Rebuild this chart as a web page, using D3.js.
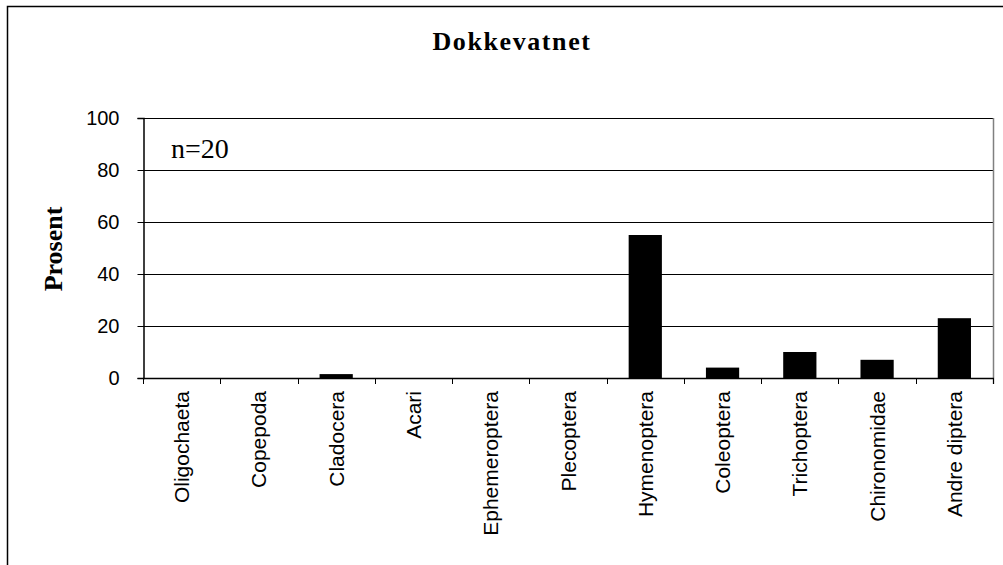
<!DOCTYPE html>
<html>
<head>
<meta charset="utf-8">
<script src="https://cdn.jsdelivr.net/npm/d3@7"></script>
<style>
  html, body { margin: 0; padding: 0; background: #fff; }
  svg { display: block; }
</style>
</head>
<body>
<svg id="chart" width="1003" height="565"></svg>
<script>
const categories = ["Oligochaeta", "Copepoda", "Cladocera", "Acari", "Ephemeroptera", "Plecoptera",
  "Hymenoptera", "Coleoptera", "Trichoptera", "Chironomidae", "Andre diptera"];
const values = [0, 0, 1.5, 0, 0, 0, 55, 4, 10, 7, 23];
const yTicks = [0, 20, 40, 60, 80, 100];
const title = "Dokkevatnet";
const yLabel = "Prosent";
const note = "n=20";

const svg = d3.select("#chart");
const W = 1003, H = 565;
const m = { left: 143, right: 993, top: 118, bottom: 378 };

// outer border
svg.append("rect").attr("x", 7.5).attr("y", 6.5).attr("width", W).attr("height", H)
  .attr("fill", "none").attr("stroke", "#000").attr("stroke-width", 1.5);

const x = d3.scaleBand().domain(categories).range([m.left, m.right]).paddingInner(0).paddingOuter(0);
const y = d3.scaleLinear().domain([0, 100]).range([m.bottom, m.top]);

// gridlines
svg.append("g").selectAll("line").data(yTicks.filter(d => d > 0)).join("line")
  .attr("x1", m.left).attr("x2", m.right)
  .attr("y1", d => Math.round(y(d)) + 0.5).attr("y2", d => Math.round(y(d)) + 0.5)
  .attr("stroke", "#000").attr("stroke-width", 1);

// right plot border
svg.append("line").attr("x1", m.right + 0.5).attr("x2", m.right + 0.5)
  .attr("y1", m.top).attr("y2", m.bottom + 6).attr("stroke", "#808080").attr("stroke-width", 1.5);

// bars
const bw = x.bandwidth() * 0.43;
svg.append("g").selectAll("rect").data(categories.map((c, i) => ({ c, v: values[i] })).filter(d => d.v > 0)).join("rect")
  .attr("x", d => x(d.c) + (x.bandwidth() - bw) / 2)
  .attr("width", bw)
  .attr("y", d => y(d.v))
  .attr("height", d => y(0) - y(d.v))
  .attr("fill", "#000");

// y axis
const yAxis = d3.axisLeft(y).tickValues(yTicks).tickSize(6).tickPadding(18);
const gy = svg.append("g").attr("transform", `translate(${m.left + 0.5},0)`).call(yAxis);
gy.select(".domain").attr("stroke", "#000").attr("stroke-width", 1.5);
gy.selectAll(".tick line").attr("stroke", "#000");
gy.selectAll(".tick text").attr("font-family", "Liberation Sans, Arial, sans-serif")
  .attr("font-size", 20).attr("fill", "#000");

// x axis line
svg.append("line").attr("x1", m.left).attr("x2", m.right + 1)
  .attr("y1", m.bottom + 0.5).attr("y2", m.bottom + 0.5).attr("stroke", "#000").attr("stroke-width", 1.5);

// x ticks at band boundaries
const bounds = categories.map(c => x(c)).concat([m.right]);
svg.append("g").selectAll("line").data(bounds).join("line")
  .attr("x1", d => Math.round(d) + 0.5).attr("x2", d => Math.round(d) + 0.5)
  .attr("y1", m.bottom).attr("y2", m.bottom + 6)
  .attr("stroke", "#000").attr("stroke-width", 1);

// x labels
svg.append("g").selectAll("text").data(categories).join("text")
  .attr("transform", d => `translate(${x(d) + x.bandwidth() / 2},391) rotate(-90)`)
  .attr("text-anchor", "end").attr("dy", "0.36em")
  .attr("font-family", "Liberation Sans, Arial, sans-serif").attr("font-size", 21)
  .attr("fill", "#000").text(d => d);

// title
svg.append("text").attr("x", 512).attr("y", 50).attr("text-anchor", "middle")
  .attr("font-family", "Liberation Serif, Times New Roman, serif").attr("font-weight", "bold")
  .attr("font-size", 26).attr("letter-spacing", "1.6px").attr("fill", "#000").text(title);

// y label
svg.append("text").attr("transform", "translate(62,249) rotate(-90)").attr("text-anchor", "middle")
  .attr("font-family", "Liberation Serif, Times New Roman, serif").attr("font-weight", "bold")
  .attr("font-size", 26).attr("fill", "#000").text(yLabel);

// n label
svg.append("text").attr("x", 171).attr("y", 158)
  .attr("font-family", "Liberation Serif, Times New Roman, serif")
  .attr("font-size", 28).attr("fill", "#000").text(note);
</script>
</body>
</html>
